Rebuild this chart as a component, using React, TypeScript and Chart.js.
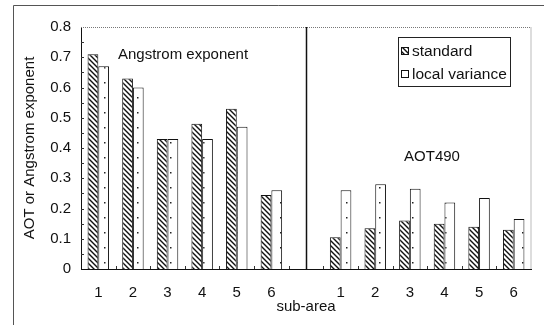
import React, { useEffect, useRef } from "react";
import { Chart, registerables } from "chart.js";

Chart.register(...registerables);

const categories = ["1", "2", "3", "4", "5", "6", "", "1", "2", "3", "4", "5", "6"];
const standardValues = [0.71, 0.63, 0.43, 0.48, 0.53, 0.245, null, 0.105, 0.135, 0.16, 0.15, 0.14, 0.13];
const localVarianceValues = [0.67, 0.6, 0.43, 0.43, 0.47, 0.26, null, 0.26, 0.28, 0.265, 0.22, 0.235, 0.165];
const yTicks = [0, 0.1, 0.2, 0.3, 0.4, 0.5, 0.6, 0.7, 0.8];
const yMinorTicks = [0.05, 0.1, 0.15, 0.2, 0.25, 0.3, 0.35, 0.4, 0.45, 0.5, 0.55, 0.6, 0.65, 0.7, 0.75];
const seriesNames = ["standard", "local variance"];
const groupTitles = ["Angstrom exponent", "AOT490"];

const FONT = "'Liberation Sans', Arial, sans-serif";

function makeHatch(): CanvasPattern | string {
  const c = document.createElement("canvas");
  const s = 5;
  c.width = s;
  c.height = s;
  const ctx = c.getContext("2d");
  if (!ctx) return "#888";
  ctx.fillStyle = "#fff";
  ctx.fillRect(0, 0, s, s);
  ctx.strokeStyle = "#111";
  ctx.lineWidth = 1.4;
  ctx.beginPath();
  ctx.moveTo(-1, -1);
  ctx.lineTo(s + 1, s + 1);
  ctx.moveTo(-1, s - 1);
  ctx.lineTo(1, s + 1);
  ctx.moveTo(s - 1, -1);
  ctx.lineTo(s + 1, 1);
  ctx.stroke();
  return ctx.createPattern(c, "repeat") || "#888";
}

function makeDots(): CanvasPattern | string {
  const c = document.createElement("canvas");
  c.width = 11;
  c.height = 15;
  const ctx = c.getContext("2d");
  if (!ctx) return "#fff";
  ctx.fillStyle = "#fff";
  ctx.fillRect(0, 0, 11, 15);
  ctx.fillStyle = "#222";
  ctx.fillRect(5, 7, 1.5, 1.5);
  return ctx.createPattern(c, "repeat") || "#fff";
}

export default function App() {
  const ref = useRef<HTMLCanvasElement | null>(null);

  useEffect(() => {
    if (!ref.current) return;
    const hatch = makeHatch();
    const dots = makeDots();

    const decor = {
      id: "decor",
      beforeDraw(chart: any) {
        const ctx = chart.ctx;
        ctx.save();
        ctx.fillStyle = "#fff";
        ctx.fillRect(0, 0, chart.width, chart.height);
        ctx.strokeStyle = "#555";
        ctx.lineWidth = 1;
        ctx.beginPath();
        ctx.moveTo(13.5, 5.5);
        ctx.lineTo(544, 5.5);
        ctx.moveTo(13.5, 5.5);
        ctx.lineTo(13.5, 325);
        ctx.stroke();
        ctx.restore();
      },
      afterDatasetsDraw(chart: any) {
        const ctx = chart.ctx;
        const a = chart.chartArea;
        const x = chart.scales.x;
        const y = chart.scales.y;
        ctx.save();
        // dotted top and right border
        ctx.strokeStyle = "#777";
        ctx.lineWidth = 1;
        ctx.setLineDash([1, 1]);
        ctx.beginPath();
        ctx.moveTo(a.left, Math.round(a.top) + 0.5);
        ctx.lineTo(a.right, Math.round(a.top) + 0.5);
        ctx.lineTo(a.right, a.bottom);
        ctx.stroke();
        ctx.setLineDash([]);
        // inside tick marks on y axis
        ctx.strokeStyle = "#333";
        ctx.beginPath();
        for (const v of yMinorTicks) {
          const py = Math.round(y.getPixelForValue(v)) + 0.5;
          ctx.moveTo(a.left, py);
          ctx.lineTo(a.left + 3, py);
        }
        // inside tick marks on x axis at category boundaries
        for (let i = 1; i < categories.length; i++) {
          const px = Math.round((x.getPixelForValue(i - 1) + x.getPixelForValue(i)) / 2) + 0.5;
          ctx.moveTo(px, a.bottom);
          ctx.lineTo(px, a.bottom - 3);
        }
        ctx.stroke();
        // separator line
        const sx = Math.round(x.getPixelForValue(6)) + 0.5;
        ctx.strokeStyle = "#111";
        ctx.lineWidth = 1.5;
        ctx.beginPath();
        ctx.moveTo(sx, a.top);
        ctx.lineTo(sx, a.bottom);
        ctx.stroke();
        // group titles
        ctx.fillStyle = "#111";
        ctx.font = `15px ${FONT}`;
        ctx.textBaseline = "middle";
        ctx.textAlign = "left";
        ctx.fillText(groupTitles[0], 118, 55);
        ctx.textAlign = "center";
        ctx.fillText(groupTitles[1], 432, 157);
        // legend
        ctx.strokeStyle = "#222";
        ctx.lineWidth = 1;
        ctx.strokeRect(398.5, 37.5, 112, 49);
        ctx.textAlign = "left";
        ctx.font = `15.5px ${FONT}`;
        const items = [hatch, dots];
        const ys = [51, 74];
        for (let i = 0; i < 2; i++) {
          ctx.fillStyle = items[i] as any;
          ctx.fillRect(401, ys[i] - 4, 8, 8);
          ctx.strokeStyle = "#111";
          ctx.strokeRect(401.5, ys[i] - 3.5, 7, 7);
          ctx.fillStyle = "#111";
          ctx.fillText(seriesNames[i], 412, ys[i] + 1);
        }
        ctx.restore();
      },
    };

    const chart = new Chart(ref.current, {
      type: "bar",
      data: {
        labels: categories,
        datasets: [
          {
            label: seriesNames[0],
            data: standardValues as any,
            backgroundColor: hatch as any,
            borderColor: "#111",
            borderWidth: 1,
            categoryPercentage: 0.62,
            barPercentage: 1,
          },
          {
            label: seriesNames[1],
            data: localVarianceValues as any,
            backgroundColor: dots as any,
            borderColor: "#111",
            borderWidth: 1,
            categoryPercentage: 0.62,
            barPercentage: 1,
          },
        ],
      },
      options: {
        responsive: false,
        animation: false,
        layout: { padding: { left: 0, top: 27, right: 13, bottom: 0 } },
        plugins: {
          legend: { display: false },
          tooltip: { enabled: false },
        },
        scales: {
          x: {
            grid: { display: false, drawTicks: false },
            border: { display: true, color: "#111", width: 1 },
            ticks: {
              color: "#111",
              font: { family: FONT, size: 15 },
              padding: 15,
              maxRotation: 0,
              autoSkip: false,
            },
            title: {
              display: true,
              text: "sub-area",
              color: "#111",
              font: { family: FONT, size: 15 },
              padding: { top: 9, bottom: 9 },
            },
            afterFit(scale: any) {
              scale.height = 56;
            },
          },
          y: {
            min: 0,
            max: 0.8,
            grid: { display: false, drawTicks: false },
            border: { display: true, color: "#111", width: 1 },
            afterBuildTicks(scale: any) {
              scale.ticks = yTicks.map((v) => ({ value: v }));
            },
            ticks: {
              color: "#111",
              font: { family: FONT, size: 15 },
              padding: 10,
              callback: (v: any) => (v === 0 ? "0" : Number(v).toFixed(1)),
            },
            title: {
              display: true,
              text: "AOT or Angstrom exponent",
              color: "#111",
              font: { family: FONT, size: 15 },
              padding: { top: 21, bottom: 21 },
            },
            afterFit(scale: any) {
              scale.width = 81;
            },
          },
        },
      },
      plugins: [decor],
    });
    return () => chart.destroy();
  }, []);

  return (
    <div style={{ position: "fixed", left: 0, top: 0, width: 544, height: 325, background: "#fff" }}>
      <canvas ref={ref} width={544} height={325} style={{ width: 544, height: 325 }} />
    </div>
  );
}
